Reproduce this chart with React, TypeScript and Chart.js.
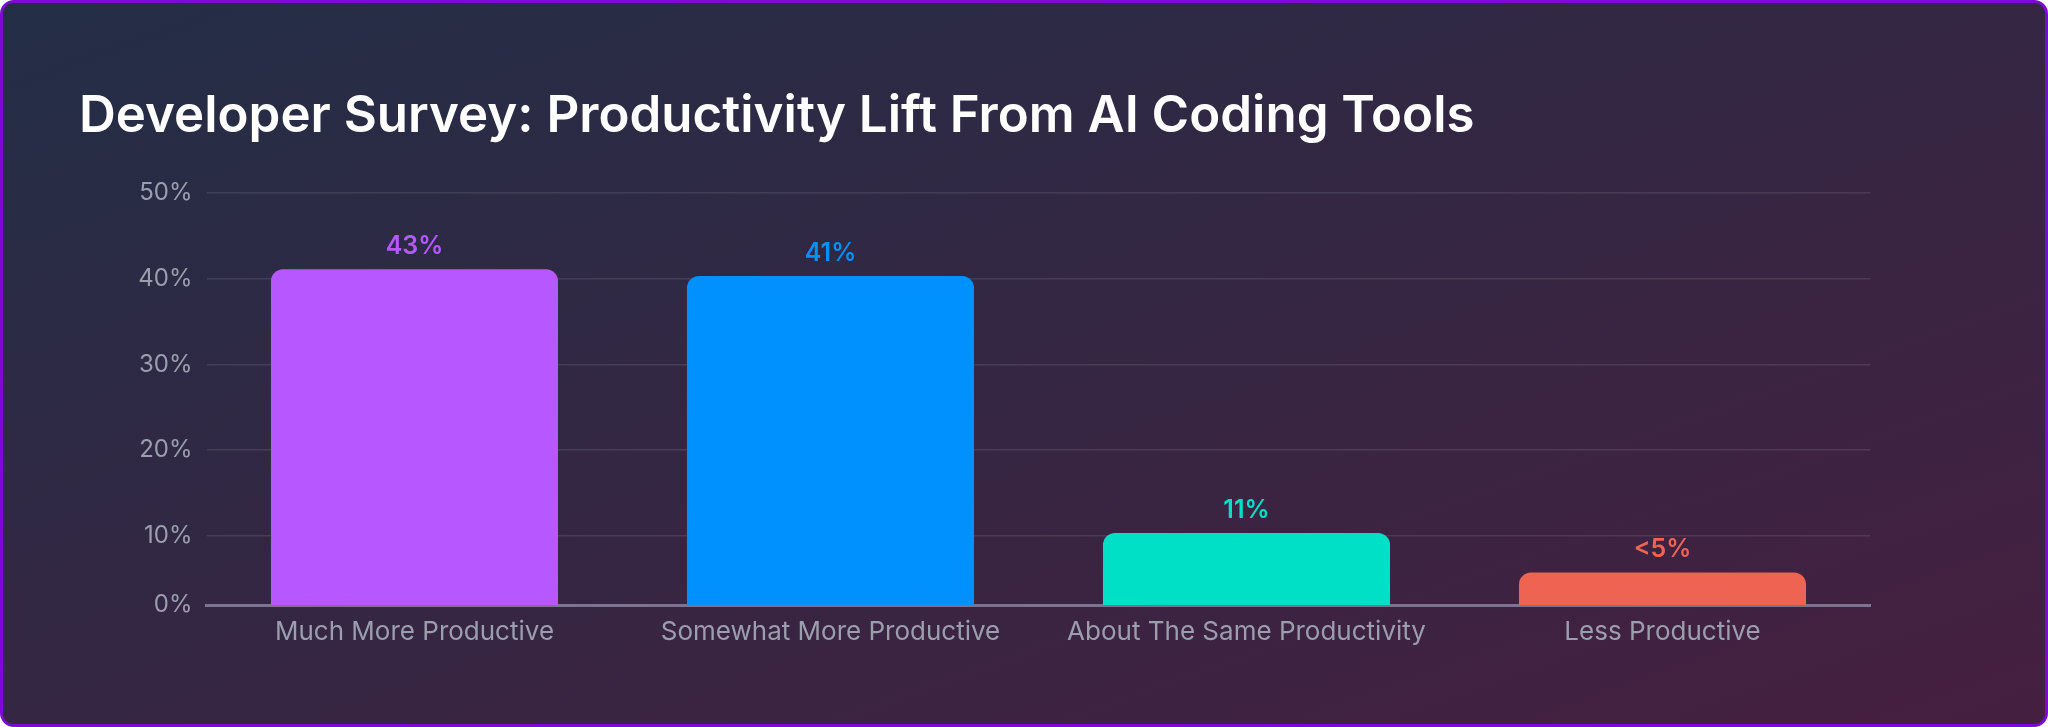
import React, { useEffect, useRef } from 'react';
import { Chart, registerables } from 'chart.js';

Chart.register(...registerables);

const categories = [
  'Much More Productive',
  'Somewhat More Productive',
  'About The Same Productivity',
  'Less Productive',
];
const barValues = [41.1, 40.3, 10.3, 5.7];
const valueLabels = ['43%', '41%', '11%', '<5%'];
const barColors = ['#b657ff', '#0091ff', '#00e0c7', '#ee6352'];
const yTickValues = [1.9, 10, 20, 30, 40, 50];
const yTickLabels = ['0%', '10%', '20%', '30%', '40%', '50%'];

const axisGrey = '#9a9eae';

// draws the percentage text above each bar
const valueLabelPlugin = {
  id: 'valueLabels',
  afterDatasetsDraw(chart: any) {
    const { ctx } = chart;
    const meta = chart.getDatasetMeta(0);
    ctx.save();
    ctx.font = '600 25px Inter';
    ctx.textAlign = 'center';
    ctx.textBaseline = 'alphabetic';
    meta.data.forEach((bar: any, i: number) => {
      ctx.fillStyle = barColors[i];
      ctx.fillText(valueLabels[i], bar.x, bar.y - 15);
    });
    ctx.restore();
  },
};

const App: React.FC = () => {
  const chartRef = useRef<HTMLCanvasElement>(null);
  const chartInstance = useRef<Chart | null>(null);

  useEffect(() => {
    if (!chartRef.current) return;
    const ctx = chartRef.current.getContext('2d');
    if (!ctx) return;

    if (chartInstance.current) {
      chartInstance.current.destroy();
    }

    chartInstance.current = new Chart(ctx, {
      type: 'bar',
      data: {
        labels: categories,
        datasets: [
          {
            data: barValues,
            backgroundColor: barColors,
            borderRadius: 12,
            borderSkipped: 'bottom',
            categoryPercentage: 1,
            barPercentage: 0.69,
          },
        ],
      },
      options: {
        animation: false,
        responsive: true,
        maintainAspectRatio: false,
        layout: {
          padding: { top: 190, right: 174.5, bottom: 59, left: 0 },
        },
        plugins: {
          legend: { display: false },
          tooltip: { enabled: false },
        },
        scales: {
          x: {
            grid: { display: false },
            border: { display: true, color: '#7b7390', width: 3 },
            ticks: {
              color: axisGrey,
              font: { family: 'Inter', size: 26 },
              padding: 4,
              maxRotation: 0,
            },
            afterFit: (scale: any) => {
              scale.height = 60;
            },
          },
          y: {
            min: yTickValues[0],
            max: yTickValues[yTickValues.length - 1],
            afterBuildTicks: (scale: any) => {
              scale.ticks = yTickValues.map((v) => ({ value: v }));
            },
            grid: { color: 'rgba(255,255,255,0.1)', lineWidth: 1.5, drawTicks: false },
            border: { display: false },
            ticks: {
              color: axisGrey,
              font: { family: 'Inter', size: 24 },
              padding: 14,
              callback: (_v: any, i: number) => yTickLabels[i],
            },
            afterFit: (scale: any) => {
              scale.width = 203.5;
            },
          },
        },
      },
      plugins: [valueLabelPlugin],
    });

    return () => {
      if (chartInstance.current) {
        chartInstance.current.destroy();
        chartInstance.current = null;
      }
    };
  }, []);

  return (
    <div
      style={{
        position: 'fixed',
        inset: 0,
        boxSizing: 'border-box',
        border: '3px solid #7a0bd2',
        borderRadius: 14,
        background: 'linear-gradient(to bottom right, #232e46, #461f40)',
        overflow: 'hidden',
      }}
    >
      <div
        style={{
          position: 'absolute',
          left: 76,
          top: 85,
          margin: 0,
          fontFamily: 'Inter, sans-serif',
          fontWeight: 600,
          fontSize: 51,
          lineHeight: '51px',
          color: '#ffffff',
          whiteSpace: 'nowrap',
        }}
      >
        Developer Survey: Productivity Lift From AI Coding Tools
      </div>
      <div style={{ position: 'absolute', inset: 0 }}>
        <canvas ref={chartRef}></canvas>
      </div>
    </div>
  );
};

export default App;
